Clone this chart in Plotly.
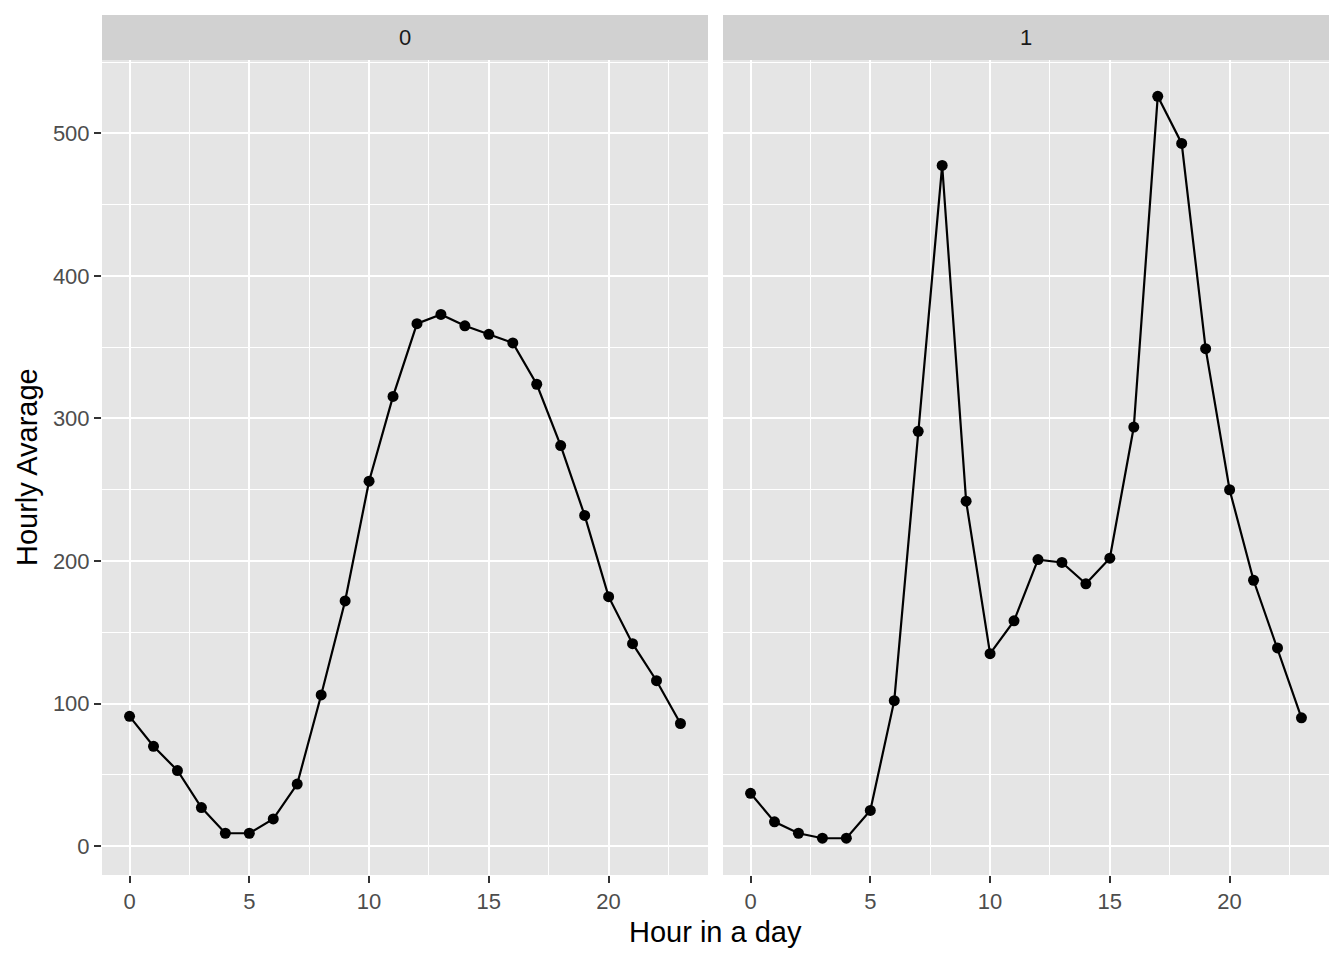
import plotly.graph_objects as go

hours = list(range(24))
avg_0 = [91, 70, 53, 27, 9, 9, 19, 43.5, 106, 172, 256, 315.5, 366.5, 373, 365, 359, 353, 324, 281, 232, 175, 142, 116, 86]
avg_1 = [37, 17, 9, 5.5, 5.5, 25, 102, 291, 477.5, 242, 135, 158, 201, 199, 184, 202, 294, 526, 493, 349, 250, 186.5, 139, 90]
facets = ["0", "1"]
x_ticks = [0, 5, 10, 15, 20]
y_ticks = [0, 100, 200, 300, 400, 500]

W, H = 1344, 960
OFF = 8  # page body margin
px0 = (102 - OFF, 708 - OFF)
px1 = (723 - OFF, 1329 - OFF)
top, bottom = 60 - OFF, 875 - OFF
strip_top = 15 - OFF
FONT = "Liberation Sans, Arial, sans-serif"

fig = go.Figure()
for i, vals in enumerate([avg_0, avg_1]):
    xa = "x" if i == 0 else "x2"
    ya = "y" if i == 0 else "y2"
    fig.add_trace(go.Scatter(x=hours, y=vals, mode="lines+markers",
                             line=dict(color="black", width=2.2),
                             marker=dict(color="black", size=11),
                             xaxis=xa, yaxis=ya, showlegend=False))

def axis(**kw):
    d = dict(
        showgrid=True, gridcolor="white", gridwidth=2.2, zeroline=False,
        ticks="outside", ticklen=7, tickwidth=2.2, tickcolor="#333333",
        tickfont=dict(family=FONT, size=22, color="#4D4D4D"),
        showline=False,
    )
    d.update(kw)
    return d

xdom = lambda d: [d[0] / W, d[1] / W]
ydom = [1 - bottom / H, 1 - top / H]
xminor = dict(dtick=2.5, tick0=0, showgrid=True, gridcolor="white", gridwidth=1.1)
yminor = dict(dtick=50, tick0=0, showgrid=True, gridcolor="white", gridwidth=1.1)

fig.update_layout(
    width=W, height=H,
    margin=dict(l=0, r=0, t=0, b=0),
    paper_bgcolor="white", plot_bgcolor="#E5E5E5",
    xaxis=axis(domain=xdom(px0), range=[-1.15, 24.15], tickvals=x_ticks, anchor="y", minor=xminor),
    yaxis=axis(domain=ydom, range=[-20.3, 551.5], tickvals=y_ticks, anchor="x", minor=yminor),
    xaxis2=axis(domain=xdom(px1), range=[-1.15, 24.15], tickvals=x_ticks, anchor="y2", minor=xminor),
    yaxis2=axis(domain=ydom, range=[-20.3, 551.5], tickvals=y_ticks, anchor="x2",
                showticklabels=False, ticks="", minor=yminor),
)

shapes = []
annotations = []
for label, dom in zip(facets, [px0, px1]):
    shapes.append(dict(type="rect", xref="paper", yref="paper",
                       x0=dom[0] / W, x1=dom[1] / W, y0=1 - top / H, y1=1 - strip_top / H,
                       fillcolor="#D1D1D1", line=dict(width=0), layer="below"))
    annotations.append(dict(text=label, xref="paper", yref="paper",
                            x=(dom[0] + dom[1]) / 2 / W, y=1 - (strip_top + top) / 2 / H,
                            showarrow=False, xanchor="center", yanchor="middle",
                            font=dict(family=FONT, size=22, color="#1A1A1A")))
annotations.append(dict(text="Hour in a day", xref="paper", yref="paper",
                        x=(px0[0] + px1[1]) / 2 / W, y=1 - (932 - OFF) / H, showarrow=False,
                        xanchor="center", yanchor="middle",
                        font=dict(family=FONT, size=29, color="black")))
annotations.append(dict(text="Hourly Avarage", xref="paper", yref="paper",
                        x=(27 - OFF) / W, y=1 - (467 - OFF) / H, showarrow=False, textangle=-90,
                        xanchor="center", yanchor="middle",
                        font=dict(family=FONT, size=29, color="black")))
fig.update_layout(shapes=shapes, annotations=annotations)

fig.write_html("out.html")
